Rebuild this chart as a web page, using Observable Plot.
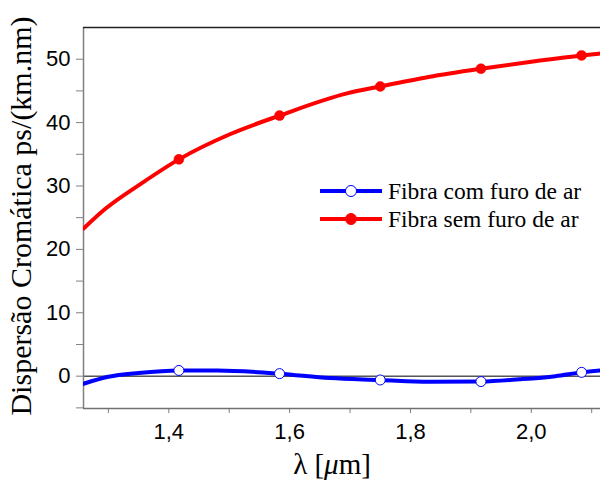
<!DOCTYPE html>
<html>
<head>
<meta charset="utf-8">
<script src="https://cdn.jsdelivr.net/npm/d3@7"></script>
<script src="https://cdn.jsdelivr.net/npm/@observablehq/plot@0.6"></script>
<style>
  html, body { margin: 0; padding: 0; background: #fff; }
  svg { display: block; }
  .serif { font-family: "Liberation Serif", "Times New Roman", serif !important; }
  .sans text { font-family: "Liberation Sans", Arial, sans-serif; }
</style>
</head>
<body>
<div id="chart"></div>
<script>
// Tick values
const xTicks = [1.4, 1.6, 1.8, 2.0];
const xMinorTicks = [1.3, 1.5, 1.7, 1.9, 2.1];
const yTicks = [0, 10, 20, 30, 40, 50];
const yMinorTicks = [-5, 5, 15, 25, 35, 45];

// Marker positions (wavelength, µm)
const markerX = [1.4167, 1.5833, 1.75, 1.9167, 2.0833];
const redMarkerY = [34.2, 41.1, 45.7, 48.5, 50.6];
const blueMarkerY = [0.9, 0.4, -0.6, -0.85, 0.6];

// Curve knots
const redLineX = [1.259, 1.295, 1.353, 1.4167, 1.502, 1.5833, 1.695, 1.75, 1.83, 1.9167, 2.0, 2.0833, 2.115];
const redLineY = [23.3, 26.4, 30.3, 34.2, 38.2, 41.1, 44.6, 45.7, 47.2, 48.5, 49.6, 50.6, 50.9];
const blueLineX = [1.259, 1.30, 1.35, 1.4167, 1.48, 1.5833, 1.667, 1.75, 1.83, 1.9167, 1.98, 2.04, 2.0833, 2.115];
const blueLineY = [-1.2, -0.1, 0.5, 0.9, 0.9, 0.4, -0.3, -0.6, -0.9, -0.85, -0.5, 0.0, 0.6, 0.9];

const legendLabels = ["Fibra com furo de ar", "Fibra sem furo de ar"];

const xDomain = [1.2588, 2.1146];
const yDomain = [-5.1, 55];

const redLine = redLineX.map((x, i) => ({x, y: redLineY[i]}));
const blueLine = blueLineX.map((x, i) => ({x, y: blueLineY[i]}));
const redMarks = markerX.map((x, i) => ({x, y: redMarkerY[i]}));
const blueMarks = markerX.map((x, i) => ({x, y: blueMarkerY[i]}));

const fmt = d => d.toFixed(1).replace(".", ",");

const plot = Plot.plot({
  width: 600,
  height: 481,
  marginLeft: 83,
  marginRight: 0,
  marginTop: 27,
  marginBottom: 73,
  className: "sans",
  x: {domain: xDomain},
  y: {domain: yDomain},
  style: {background: "white"},
  marks: [
    Plot.ruleY([0], {stroke: "black", strokeWidth: 1}),
    Plot.axisY(yTicks, {tickSize: 7, tickPadding: 6, fontSize: 22, stroke: "#808080", fill: "black", label: null}),
    Plot.axisY(yMinorTicks, {tickSize: 7, tickFormat: () => "", stroke: "#808080", label: null}),
    Plot.axisX(xTicks, {tickSize: 5, tickPadding: 10, fontSize: 22, tickFormat: fmt, stroke: "#808080", fill: "black", label: null}),
    Plot.axisX(xMinorTicks, {tickSize: 5, tickFormat: () => "", stroke: "#808080", label: null}),
    Plot.ruleX([xDomain[0]], {stroke: "#808080", strokeWidth: 1.5}),
    Plot.ruleY([yDomain[0]], {stroke: "#707070", strokeWidth: 1.5}),
    Plot.ruleY([yDomain[1]], {stroke: "#222", strokeWidth: 1.5}),
    Plot.line(redLine, {x: "x", y: "y", stroke: "#ff0000", strokeWidth: 4, curve: "monotone-x", clip: true}),
    Plot.line(blueLine, {x: "x", y: "y", stroke: "#0000ff", strokeWidth: 4, curve: "monotone-x", clip: true}),
    Plot.dot(redMarks, {x: "x", y: "y", r: 5, fill: "#ff0000", stroke: "#ff0000", strokeWidth: 0.5}),
    Plot.dot(blueMarks, {x: "x", y: "y", r: 5, fill: "white", stroke: "#0000ff", strokeWidth: 1})
  ]
});

const svg = d3.select(plot);

// Y title
svg.append("text")
  .attr("class", "serif")
  .attr("transform", "translate(31,216) rotate(-90)")
  .attr("text-anchor", "middle")
  .attr("font-size", 30)
  .attr("fill", "black")
  .text("Dispersão Cromática ps/(km.nm)");

// X title
const xt = svg.append("text")
  .attr("class", "serif")
  .attr("x", 332).attr("y", 474)
  .attr("text-anchor", "middle")
  .attr("font-size", 29)
  .attr("fill", "black");
xt.append("tspan").text("λ [");
xt.append("tspan").attr("font-style", "italic").text("μ");
xt.append("tspan").text("m]");

// Legend
const legendColors = ["#0000ff", "#ff0000"];
const legendFill = ["white", "#ff0000"];
const rowsY = [191, 219];
legendLabels.forEach((lab, i) => {
  const g = svg.append("g");
  g.append("line").attr("x1", 320).attr("x2", 382).attr("y1", rowsY[i]).attr("y2", rowsY[i])
    .attr("stroke", legendColors[i]).attr("stroke-width", 4);
  g.append("circle").attr("cx", 351).attr("cy", rowsY[i]).attr("r", 5.5)
    .attr("fill", legendFill[i]).attr("stroke", legendColors[i]).attr("stroke-width", 1);
  g.append("text").attr("class", "serif").attr("x", 388).attr("y", rowsY[i] + 8)
    .attr("text-anchor", "start")
    .attr("font-size", 23.5).attr("fill", "black").text(lab);
});

document.getElementById("chart").appendChild(plot);
</script>
</body>
</html>
